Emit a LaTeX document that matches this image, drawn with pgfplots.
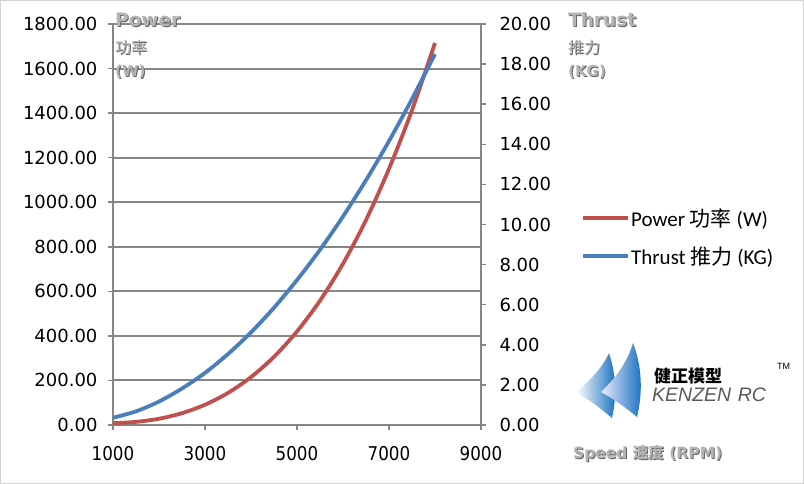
\documentclass[border=0pt]{standalone}
\usepackage{fontspec}
\usepackage{pgfplots}
\pgfplotsset{compat=1.18}
\usepackage{pgfplotstable}
\setmainfont{DejaVu Sans}
\newfontfamily\cjk{Noto Sans CJK SC}
\newfontfamily\carlito{Carlito}
\newfontfamily\lib{Liberation Sans}
\newfontfamily\xfont{DejaVu Sans}[FakeStretch=0.88]
\definecolor{pred}{RGB}{192,80,77}
\definecolor{tblue}{RGB}{74,126,187}
\definecolor{gridgray}{RGB}{134,134,134}
\definecolor{titlegray}{RGB}{180,180,180}
\definecolor{shadowgray}{RGB}{100,100,100}
\definecolor{logoblue}{RGB}{20,110,190}

\pgfplotstableread{
rpm power
1000 8
1500 14
2000 28
2500 53
3000 91
3500 144
4000 215
4500 306
5000 420
5500 558
6000 724
6500 920
7000 1150
7500 1413
8000 1715
}\powertable

\pgfplotstableread{
rpm thrust
1000 0.36
1500 0.68
2000 1.17
2500 1.82
3000 2.60
3500 3.54
4000 4.62
4500 5.85
5000 7.23
5500 8.74
6000 10.40
6500 12.21
7000 14.16
7500 16.26
8000 18.50
}\thrusttable

\newcommand{\emb}[3]{% x, y, text
  \node[anchor=base west, inner sep=0pt, text=shadowgray] at (#1+1,#2-1) {#3};
  \node[anchor=base west, inner sep=0pt, text=titlegray] at (#1,#2) {#3};}

\begin{document}
\begin{tikzpicture}[x=1pt,y=1pt]
\useasboundingbox (0,0) rectangle (804,484);
\draw[gray!35, line width=1pt] (0.5,0.5) rectangle (803.5,483.5);

\pgfplotsset{
  base/.style={
    at={(113pt,59pt)}, anchor=south west, scale only axis,
    width=368pt, height=401pt,
    xmin=1000, xmax=9000,
    axis line style={-, gridgray, line width=2pt},
    tick style={gridgray, line width=1.5pt},
    tick align=outside, major tick length=5pt,
    /pgf/number format/assume math mode=true,
    ticklabel style={font=\fontsize{18}{20}\selectfont, color=black},
  }
}

\begin{axis}[base,
  ymin=0, ymax=1800,
  axis x line*=bottom, axis y line*=left,
  xtick={1000,3000,5000,7000,9000},
  ytick={0,200,...,1800},
  ymajorgrids, grid style={gridgray, line width=2pt},
  scaled ticks=false,
  xticklabel style={/pgf/number format/1000 sep={}, font=\xfont\fontsize{19}{20}\selectfont, yshift=-13pt},
  yticklabel style={/pgf/number format/fixed, /pgf/number format/fixed zerofill, /pgf/number format/precision=2, /pgf/number format/1000 sep={}, xshift=-7pt},
]
\addplot[pred, line width=3.8pt, smooth] table[x=rpm, y=power] {\powertable};
\end{axis}

\begin{axis}[base,
  ymin=0, ymax=20,
  axis x line=none, axis y line*=right,
  ytick={0,2,...,20},
  yticklabel style={/pgf/number format/fixed, /pgf/number format/fixed zerofill, /pgf/number format/precision=2, xshift=10pt},
  legend style={at={(1.264,0.469)}, anchor=west, draw=none, fill=none,
    font=\carlito\fontsize{21}{23}\selectfont, row sep=17pt,
    nodes={inner sep=1pt}},
  legend cell align=left,
  legend image code/.code={\draw[#1, line width=3.8pt] (0pt,0pt) -- (45pt,0pt);},
]
\addlegendimage{pred, line width=3.8pt}
\addlegendentry{Power {\cjk 功率} (W)}
\addplot[tblue, line width=3.8pt, smooth] table[x=rpm, y=thrust] {\thrusttable};
\addlegendentry{Thrust {\cjk 推力} (KG)}
\end{axis}

% embossed titles
\emb{115}{457}{\bfseries\fontsize{18.5}{20}\selectfont Power}
\emb{115}{430}{\cjk\fontsize{16}{18}\selectfont 功率}
\emb{115}{407}{\bfseries\fontsize{15}{18}\selectfont (W)}
\emb{568}{457}{\bfseries\fontsize{18.5}{20}\selectfont Thrust}
\emb{568}{430}{\cjk\fontsize{16}{18}\selectfont 推力}
\emb{568}{407}{\bfseries\fontsize{15}{18}\selectfont (KG)}
\emb{573}{25}{\bfseries\fontsize{15.5}{18}\selectfont Speed {\cjk 速度} (RPM)}

% logo
\shade[left color=white, right color=logoblue]
  (576,91) .. controls (592,106) and (603,117) .. (609,131)
  .. controls (616,110) and (617,88) .. (612,66)
  .. controls (600,76) and (589,85) .. (576,91) -- cycle;
\shade[left color=blue!8!white, right color=logoblue]
  (601,92) .. controls (618,108) and (628,124) .. (633,141)
  .. controls (642,118) and (643,92) .. (637,67)
  .. controls (625,77) and (612,86) .. (601,92) -- cycle;
\node[anchor=base west, inner sep=0pt] at (654,101) {\cjk\bfseries\fontsize{17}{18}\selectfont 健正模型};
\node[anchor=base west, inner sep=0pt, text=gray!70!black] at (652,82) {\lib\itshape\fontsize{19.5}{20}\selectfont KENZEN\,\,RC};
\node[anchor=base west, inner sep=0pt] at (777,114) {\lib\fontsize{9}{10}\selectfont TM};
\end{tikzpicture}
\end{document}
